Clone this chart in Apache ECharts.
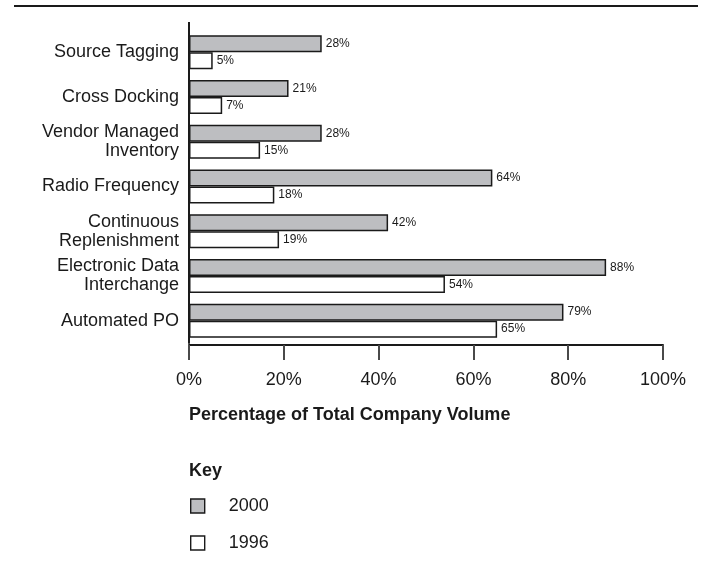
<!DOCTYPE html>
<html>
<head>
<meta charset="utf-8">
<script src="https://cdn.jsdelivr.net/npm/echarts@6/dist/echarts.min.js"></script>
<style>
  html, body { margin: 0; padding: 0; background: #fff; }
  #chart { width: 715px; height: 568px; }
</style>
</head>
<body>
<div id="chart"></div>
<script>
// Adoption of supply-chain practices, share of total company volume
const categories = [
  'Source Tagging',
  'Cross Docking',
  'Vendor Managed\nInventory',
  'Radio Frequency',
  'Continuous\nReplenishment',
  'Electronic Data\nInterchange',
  'Automated PO'
];
const values2000 = [28, 21, 28, 64, 42, 88, 79];
const values1996 = [5, 7, 15, 18, 19, 54, 65];
const xTicks = [0, 20, 40, 60, 80, 100];

const FONT = '"Liberation Sans", Arial, sans-serif';
const INK = '#1a1a1a';

const chart = echarts.init(document.getElementById('chart'), null, { renderer: 'canvas' });

const barLabel = {
  show: true,
  position: 'right',
  distance: 4,
  formatter: '{c}%',
  fontFamily: FONT,
  fontSize: 12,
  color: INK
};

chart.setOption({
  animation: false,
  backgroundColor: '#fff',
  textStyle: { fontFamily: FONT },
  title: [
    {
      text: 'Percentage of Total Company Volume',
      left: 189, top: 406, padding: 0,
      textStyle: { fontFamily: FONT, fontWeight: 'bold', fontSize: 18, color: INK }
    },
    {
      text: 'Key',
      left: 189, top: 462, padding: 0,
      textStyle: { fontFamily: FONT, fontWeight: 'bold', fontSize: 18, color: INK }
    }
  ],
  legend: {
    orient: 'vertical',
    left: 190, top: 497, padding: 0,
    itemWidth: 14, itemHeight: 14,
    itemGap: 19,
    icon: 'rect',
    data: ['2000', '1996'],
    itemStyle: { borderWidth: 1.4 },
    textStyle: { fontFamily: FONT, fontSize: 18, color: INK, padding: [0, 0, 0, 19] },
    selectedMode: false
  },
  grid: { left: 189, right: 52, top: 30, height: 313, containLabel: false },
  xAxis: {
    type: 'value',
    min: 0, max: 100, interval: 20,
    offset: 2,
    axisLine: { show: true, lineStyle: { color: INK, width: 2 } },
    axisTick: { show: true, inside: false, length: 15, lineStyle: { color: '#4a4a4a', width: 2 } },
    axisLabel: {
      fontFamily: FONT, fontSize: 18, color: INK, margin: 26,
      formatter: v => xTicks.includes(v) ? v + '%' : ''
    },
    splitLine: { show: false }
  },
  yAxis: {
    type: 'category',
    inverse: true,
    data: categories,
    axisLine: { show: true, lineStyle: { color: INK, width: 2 } },
    axisTick: { show: false },
    axisLabel: {
      fontFamily: FONT, fontSize: 18, color: INK, margin: 10,
      lineHeight: 19, align: 'right'
    }
  },
  series: [
    {
      name: '2000',
      type: 'bar',
      data: values2000,
      barWidth: 17,
      barGap: '0%',
      itemStyle: { color: '#bdbec1', borderColor: INK, borderWidth: 1.5 },
      label: barLabel
    },
    {
      name: '1996',
      type: 'bar',
      data: values1996,
      barWidth: 17,
      barGap: '0%',
      itemStyle: { color: '#ffffff', borderColor: INK, borderWidth: 1.5 },
      label: barLabel
    }
  ],
  graphic: [
    // rule across the top of the figure
    { type: 'line', shape: { x1: 14, y1: 6, x2: 698, y2: 6 }, style: { stroke: INK, lineWidth: 2 } },
    // upward extension of the category axis line
    { type: 'line', shape: { x1: 189, y1: 22, x2: 189, y2: 31 }, style: { stroke: INK, lineWidth: 2 } }
  ]
});
</script>
</body>
</html>
